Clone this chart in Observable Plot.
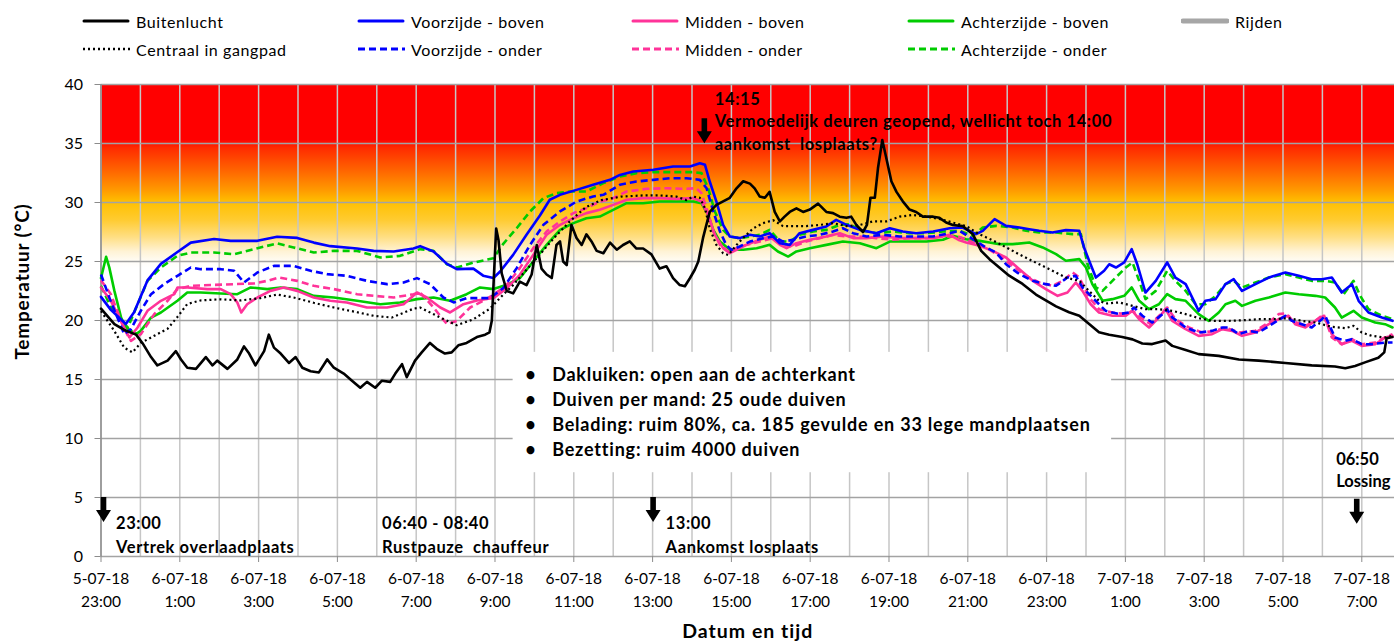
<!DOCTYPE html>
<html>
<head>
<meta charset="utf-8">
<script src="https://cdn.jsdelivr.net/npm/d3@7"></script>
<script src="https://cdn.jsdelivr.net/npm/@observablehq/plot@0.6"></script>
<style>
  body { margin: 0; background: #fff; font-family: Lato, "Open Sans", sans-serif; }
  #wrap { position: relative; width: 1394px; height: 643px; overflow: hidden; }
  #chart { position: absolute; left: 0; top: 0; }
  #legend { position: absolute; left: 0; top: 0; width: 1394px; height: 70px; }
  .li { position: absolute; display: flex; align-items: center; font-size: 16px; letter-spacing: 0.6px; color: #000; white-space: nowrap; height: 20px; }
  .li svg { margin-right: 6px; }
</style>
</head>
<body>
<div id="wrap"><div id="chart"></div><div id="legend"></div></div>
<script>
// ---------------- DATA ----------------
// time = hours after the start time (5-07-18 23:00)
const startTime = "2018-07-05T23:00:00Z";
const endHours = 32.83;
const yTicks = [0, 5, 10, 15, 20, 25, 30, 35, 40];
const xTickHours = [0, 2, 4, 6, 8, 10, 12, 14, 16, 18, 20, 22, 24, 26, 28, 30, 32];
const gridHours = [0,1,2,3,4,5,6,7,8,9,10,11,12,13,14,15,16,17,18,19,20,21,22,23,24,25,26,27,28,29,30,31,32];

const buitenlucht = [[0,21.0],[0.34,19.7],[0.59,19.2],[0.89,18.8],[1.05,18.1],[1.27,16.9],[1.43,16.2],[1.69,16.6],[1.9,17.4],[2.03,16.7],[2.19,16.0],[2.41,15.9],[2.66,16.9],[2.83,16.2],[2.95,16.6],[3.21,15.9],[3.46,16.7],[3.63,17.8],[3.76,17.2],[3.92,16.2],[4.14,17.4],[4.26,18.8],[4.39,17.7],[4.56,17.2],[4.77,16.4],[4.94,16.9],[5.11,16.0],[5.32,15.7],[5.53,15.6],[5.74,16.7],[5.91,16.0],[6.16,15.5],[6.37,14.9],[6.58,14.3],[6.75,14.8],[6.96,14.3],[7.13,14.9],[7.34,14.8],[7.47,15.5],[7.64,16.3],[7.76,15.2],[7.97,16.6],[8.14,17.3],[8.35,18.1],[8.52,17.6],[8.73,17.2],[8.9,17.3],[9.07,17.9],[9.28,18.1],[9.54,18.6],[9.75,18.8],[9.86,19.0],[9.92,20.0],[9.97,23.6],[10.03,27.8],[10.09,26.8],[10.17,24.0],[10.3,22.5],[10.46,22.3],[10.63,23.3],[10.8,23.0],[10.93,23.9],[11.06,26.4],[11.18,24.4],[11.31,23.9],[11.44,23.6],[11.56,26.4],[11.65,26.7],[11.73,25.0],[11.82,24.7],[11.94,28.1],[12.07,27.0],[12.2,26.4],[12.32,27.3],[12.45,26.7],[12.58,25.9],[12.75,25.7],[12.92,26.6],[13.09,26.0],[13.25,26.4],[13.42,26.7],[13.59,26.1],[13.76,26.1],[13.97,25.6],[14.18,24.4],[14.35,24.6],[14.52,23.6],[14.69,23.0],[14.82,22.9],[14.95,23.6],[15.07,24.3],[15.16,25.0],[15.28,27.0],[15.45,29.2],[15.62,29.8],[15.79,30.1],[15.96,30.4],[16.13,31.2],[16.3,31.8],[16.47,31.6],[16.59,31.2],[16.72,30.5],[16.85,30.4],[16.97,30.9],[17.1,29.2],[17.23,28.4],[17.35,28.8],[17.48,29.2],[17.65,29.5],[17.82,29.2],[17.99,29.4],[18.2,29.9],[18.41,29.2],[18.58,29.1],[18.75,28.8],[18.92,28.7],[19.04,28.8],[19.17,28.1],[19.34,27.5],[19.44,28.1],[19.53,30.4],[19.64,30.4],[19.72,32.9],[19.83,35.3],[19.93,33.8],[20.06,31.8],[20.19,30.9],[20.35,30.1],[20.52,29.4],[20.69,29.2],[20.86,28.8],[21.12,28.8],[21.28,28.7],[21.45,28.3],[21.62,28.1],[21.87,28.0],[22.13,27.3],[22.34,25.9],[22.55,25.2],[22.8,24.5],[23.05,23.8],[23.39,23.1],[23.73,22.2],[23.98,21.7],[24.24,21.2],[24.57,20.7],[24.83,20.4],[25.08,19.7],[25.33,19.0],[25.59,18.8],[25.92,18.6],[26.18,18.4],[26.43,18.05],[26.68,18.0],[27.02,18.3],[27.19,17.85],[27.53,17.5],[27.86,17.15],[28.37,17.0],[28.88,16.7],[29.38,16.6],[30.06,16.4],[30.73,16.2],[31.32,16.1],[31.58,15.95],[31.83,16.15],[32.08,16.45],[32.42,16.85],[32.57,17.3],[32.63,18.5],[32.78,18.6]];

const centraalGangpad = [[0,20.8],[0.34,19.1],[0.59,17.7],[0.8,17.3],[1.01,18.1],[1.35,18.7],[1.69,19.3],[1.94,20.3],[2.19,21.4],[2.53,21.7],[3.04,21.8],[3.54,21.7],[4.05,21.9],[4.47,22.2],[4.89,21.95],[5.4,21.5],[5.91,21.1],[6.5,20.7],[6.92,20.4],[7.38,20.25],[7.93,21.0],[8.1,21.1],[8.61,20.25],[9.03,19.6],[9.45,20.1],[9.87,21.0],[10.21,22.2],[10.46,23.0],[10.8,24.3],[11.14,25.6],[11.5,27.0],[11.9,28.4],[12.3,29.6],[12.7,30.2],[13.2,30.5],[13.76,30.6],[14.18,30.6],[14.61,30.5],[14.86,30.2],[15.03,30.5],[15.2,30.4],[15.33,29.5],[15.45,27.8],[15.62,26.4],[15.79,25.7],[15.92,25.55],[16.13,26.4],[16.3,27.0],[16.55,27.8],[16.8,28.25],[17.06,28.5],[17.31,28.0],[17.57,28.0],[17.9,28.0],[18.24,28.1],[18.58,28.25],[18.92,28.0],[19.26,28.1],[19.6,28.4],[19.93,28.4],[20.27,28.8],[20.61,28.95],[20.95,28.8],[21.28,28.6],[21.62,28.3],[21.96,28.0],[22.3,27.3],[22.63,26.8],[22.97,26.2],[23.31,25.6],[23.73,24.9],[24.07,24.35],[24.49,23.64],[24.83,23.36],[25.08,22.5],[25.33,21.67],[25.5,21.44],[25.84,21.53],[26.18,21.24],[26.51,20.96],[26.85,20.96],[27.19,20.82],[27.53,20.54],[27.86,20.2],[28.2,19.97],[28.62,19.97],[29.05,20.03],[29.38,20.11],[29.8,20.11],[30.14,20.2],[30.48,19.97],[30.82,19.83],[31.24,19.46],[31.58,19.35],[31.79,19.55],[32.0,18.98],[32.25,18.7],[32.59,18.56],[32.78,18.7]];

const voorzijdeBoven = [[0,22.0],[0.25,20.9],[0.63,19.7],[0.84,20.7],[1.18,23.4],[1.52,24.8],[1.94,25.8],[2.28,26.6],[2.87,26.9],[3.29,26.75],[3.97,26.75],[4.47,27.1],[4.98,27.0],[5.4,26.6],[5.82,26.3],[6.5,26.1],[6.92,25.9],[7.43,25.85],[7.93,26.1],[8.1,26.3],[8.44,25.85],[8.78,24.8],[9.03,24.35],[9.45,24.4],[9.7,23.8],[9.96,23.6],[10.13,24.15],[10.46,25.56],[10.8,27.26],[11.14,28.9],[11.39,30.23],[11.65,30.65],[12.07,31.07],[12.49,31.5],[12.92,31.92],[13.17,32.34],[13.51,32.63],[14.02,32.77],[14.52,33.05],[14.95,33.05],[15.2,33.33],[15.33,33.19],[15.45,31.78],[15.62,30.08],[15.79,28.1],[15.96,27.12],[16.21,26.98],[16.47,27.26],[16.72,27.12],[16.97,27.4],[17.23,26.55],[17.48,26.41],[17.73,27.4],[18.07,27.68],[18.41,27.97],[18.66,28.53],[18.92,28.11],[19.26,27.68],[19.68,27.4],[20.02,27.82],[20.35,27.54],[20.69,27.4],[21.12,27.54],[21.54,27.82],[21.87,27.88],[22.21,27.32],[22.38,27.6],[22.68,28.59],[22.97,28.02],[23.31,27.88],[23.56,27.74],[23.81,27.6],[24.15,27.46],[24.49,27.66],[24.83,27.6],[24.95,26.19],[25.08,25.06],[25.25,23.64],[25.46,24.21],[25.59,24.77],[25.76,24.49],[25.97,24.92],[26.16,26.05],[26.3,24.77],[26.51,22.37],[26.77,23.36],[27.06,24.92],[27.27,23.64],[27.53,23.08],[27.86,20.82],[28.03,21.67],[28.29,21.81],[28.54,23.08],[28.75,23.5],[28.96,22.51],[29.3,23.08],[29.64,23.64],[30.06,24.07],[30.4,23.79],[30.73,23.5],[30.99,23.5],[31.24,23.64],[31.49,22.37],[31.75,23.08],[31.92,21.67],[32.17,20.68],[32.51,20.25],[32.78,19.97]];

const voorzijdeOnder = [[0,23.9],[0.25,21.6],[0.59,18.84],[0.76,19.27],[1.01,20.82],[1.27,22.23],[1.6,23.08],[1.94,23.79],[2.28,24.49],[2.53,24.35],[3.04,24.35],[3.38,24.21],[3.63,23.22],[3.97,24.07],[4.39,24.63],[4.89,24.63],[5.32,24.21],[5.74,23.93],[6.24,23.79],[6.75,23.36],[7.26,23.08],[7.68,23.22],[8.02,23.59],[8.35,23.08],[8.69,21.95],[8.95,21.53],[9.28,21.9],[9.87,21.9],[10.21,22.74],[10.55,24.44],[10.89,26.41],[11.23,28.11],[11.65,29.24],[12.07,30.08],[12.49,30.51],[12.75,30.65],[13.17,31.5],[13.59,31.78],[14.02,31.92],[14.44,32.06],[14.86,32.06],[15.2,31.92],[15.37,31.21],[15.54,29.24],[15.71,27.54],[15.87,26.41],[16.0,25.99],[16.21,26.27],[16.47,26.69],[16.8,26.98],[17.06,27.12],[17.31,26.69],[17.57,26.84],[17.9,27.12],[18.24,27.26],[18.58,27.54],[18.83,27.82],[19.09,27.4],[19.43,27.12],[19.85,27.26],[20.27,27.12],[20.69,27.12],[21.12,27.12],[21.54,27.4],[21.79,27.6],[22.13,26.9],[22.46,26.19],[22.72,25.76],[22.97,24.77],[23.31,23.93],[23.65,23.36],[23.98,23.08],[24.24,22.94],[24.53,23.64],[24.74,23.79],[24.91,22.8],[25.16,21.95],[25.5,20.82],[25.84,20.54],[26.09,20.68],[26.22,21.1],[26.43,20.4],[26.68,19.83],[26.94,20.54],[27.06,20.96],[27.19,20.25],[27.53,19.41],[27.86,18.98],[28.2,19.12],[28.46,19.41],[28.62,19.41],[28.88,18.84],[29.13,19.12],[29.38,18.98],[29.72,19.69],[30.06,20.4],[30.23,19.97],[30.48,19.69],[30.73,19.41],[30.99,20.11],[31.07,20.4],[31.32,18.56],[31.58,18.28],[31.75,18.42],[32.0,17.99],[32.25,17.99],[32.59,18.13],[32.78,18.13]];

const middenBoven = [[0,22.8],[0.25,21.67],[0.59,19.41],[0.72,18.56],[0.93,19.41],[1.18,20.82],[1.52,21.67],[1.86,22.23],[1.94,22.8],[2.19,22.8],[2.7,22.66],[3.04,22.66],[3.29,22.23],[3.46,21.53],[3.56,20.68],[3.71,21.38],[3.97,21.95],[4.3,22.51],[4.64,22.8],[4.98,22.51],[5.4,21.95],[5.82,21.67],[6.24,21.53],[6.75,21.1],[7.26,21.1],[7.68,21.38],[8.02,22.37],[8.27,21.95],[8.61,21.1],[8.86,20.68],[9.2,21.38],[9.54,21.7],[9.96,21.9],[10.3,22.74],[10.63,23.87],[10.97,25.56],[11.31,27.26],[11.65,28.11],[11.99,28.67],[12.32,29.1],[12.66,29.38],[13.0,29.8],[13.34,30.23],[13.76,30.37],[14.18,30.37],[14.61,30.31],[15.03,30.37],[15.24,30.08],[15.41,28.95],[15.58,27.26],[15.79,26.13],[15.96,25.71],[16.13,25.99],[16.38,26.41],[16.72,26.84],[16.97,27.12],[17.23,26.41],[17.4,26.13],[17.65,26.55],[17.99,26.84],[18.41,27.12],[18.75,27.4],[19.09,26.98],[19.43,26.98],[19.85,27.12],[20.27,26.98],[20.69,26.98],[21.12,26.98],[21.54,27.26],[21.79,26.8],[21.96,26.61],[22.3,26.33],[22.63,25.9],[22.97,25.34],[23.31,24.35],[23.65,23.36],[23.98,22.66],[24.28,22.09],[24.53,22.37],[24.74,23.22],[24.91,22.51],[25.12,21.38],[25.33,20.68],[25.67,20.4],[26.01,20.4],[26.18,20.82],[26.35,20.11],[26.6,19.41],[26.85,20.25],[27.02,20.96],[27.19,19.97],[27.53,19.27],[27.86,18.7],[28.2,18.84],[28.46,19.27],[28.71,19.12],[28.96,18.7],[29.3,18.98],[29.64,19.69],[29.97,20.25],[30.14,20.4],[30.31,19.69],[30.57,19.41],[30.82,19.97],[31.03,20.4],[31.24,18.84],[31.49,17.99],[31.75,18.28],[32.0,17.85],[32.34,17.99],[32.59,18.56],[32.78,18.7]];

const middenOnder = [[0,23.4],[0.25,22.23],[0.59,19.27],[0.76,18.28],[1.01,18.84],[1.35,20.54],[1.69,21.67],[1.94,22.66],[2.28,22.94],[2.87,23.02],[3.38,23.08],[3.88,23.14],[4.22,23.36],[4.51,23.64],[4.98,23.36],[5.4,22.94],[5.91,22.66],[6.5,22.23],[6.92,22.09],[7.43,21.95],[7.93,22.23],[8.1,22.37],[8.44,21.1],[8.78,19.69],[9.03,19.97],[9.37,21.1],[9.7,21.67],[9.96,22.18],[10.3,23.02],[10.63,24.44],[10.97,26.13],[11.31,27.54],[11.65,28.39],[11.99,29.1],[12.32,29.52],[12.66,30.08],[13.0,30.37],[13.34,30.93],[13.85,31.16],[14.35,31.21],[14.86,31.16],[15.11,31.21],[15.24,30.79],[15.37,29.52],[15.54,27.54],[15.71,26.41],[15.92,25.85],[16.13,26.13],[16.38,26.41],[16.72,26.69],[17.06,26.98],[17.31,26.41],[17.57,26.27],[17.9,26.69],[18.24,26.98],[18.58,27.26],[18.92,27.12],[19.26,27.12],[19.68,26.98],[20.1,26.84],[20.52,26.98],[20.95,26.98],[21.37,27.12],[21.79,27.09],[22.13,26.61],[22.46,26.19],[22.8,25.48],[23.14,24.63],[23.48,23.79],[23.81,23.22],[24.15,22.94],[24.41,23.36],[24.66,24.07],[24.83,23.64],[25.08,21.95],[25.33,20.96],[25.67,20.68],[26.01,20.54],[26.18,20.82],[26.39,20.25],[26.64,19.69],[26.94,20.68],[27.06,21.1],[27.27,20.11],[27.61,19.41],[27.95,18.98],[28.29,19.12],[28.54,19.41],[28.88,18.98],[29.3,19.12],[29.64,19.83],[29.89,20.54],[30.06,20.6],[30.23,19.97],[30.57,19.55],[30.82,19.97],[31.03,20.54],[31.24,18.56],[31.49,17.99],[31.75,18.42],[32.0,17.99],[32.34,18.13],[32.59,18.56],[32.78,18.84]];

const achterzijdeBoven = [[0,23.6],[0.13,25.4],[0.21,24.5],[0.34,22.51],[0.51,20.25],[0.63,19.41],[0.89,18.84],[1.01,19.12],[1.27,20.25],[1.52,20.68],[1.94,21.67],[2.19,22.37],[2.53,22.37],[3.04,22.29],[3.46,22.23],[3.8,22.8],[4.22,22.66],[4.56,22.8],[4.98,22.66],[5.4,22.09],[5.91,21.95],[6.5,21.67],[7.09,21.38],[7.59,21.53],[8.02,21.81],[8.44,21.95],[8.86,21.67],[9.28,22.23],[9.62,22.8],[9.96,22.66],[10.3,23.02],[10.63,23.59],[10.97,25.0],[11.31,26.41],[11.65,27.68],[11.99,28.25],[12.32,28.67],[12.66,28.81],[13.0,29.38],[13.34,29.94],[13.76,29.94],[14.18,30.08],[14.61,30.08],[15.03,30.08],[15.24,29.94],[15.41,28.95],[15.54,27.68],[15.71,26.69],[15.96,25.99],[16.3,25.99],[16.64,26.13],[16.97,26.41],[17.18,25.85],[17.44,25.42],[17.65,25.85],[17.99,26.13],[18.41,26.41],[18.83,26.69],[19.26,26.55],[19.68,26.13],[20.02,26.69],[20.44,26.69],[20.95,26.69],[21.37,26.84],[21.62,27.18],[21.96,26.89],[22.3,26.75],[22.55,26.61],[22.8,26.47],[23.14,26.47],[23.56,26.61],[23.9,26.19],[24.24,25.62],[24.49,25.06],[24.83,25.2],[25.0,24.49],[25.16,23.08],[25.42,21.67],[25.67,21.81],[25.97,22.09],[26.16,22.8],[26.35,21.67],[26.6,20.96],[26.85,21.38],[27.06,22.23],[27.27,21.81],[27.53,21.67],[27.86,20.54],[28.12,19.97],[28.37,20.68],[28.54,21.38],[28.79,21.67],[28.96,21.24],[29.3,21.67],[29.64,21.95],[30.06,22.37],[30.4,22.23],[30.82,22.09],[31.07,21.95],[31.32,21.1],[31.49,20.25],[31.79,20.82],[32.0,20.25],[32.34,19.83],[32.59,19.69],[32.78,19.41]];

const achterzijdeOnder = [[0,22.94],[0.25,21.1],[0.51,19.97],[0.68,19.41],[0.93,21.38],[1.18,23.36],[1.52,24.49],[1.94,25.48],[2.28,25.76],[2.87,25.76],[3.38,25.62],[3.88,26.05],[4.47,26.53],[4.89,26.19],[5.4,25.76],[5.91,25.9],[6.5,25.9],[7.09,25.34],[7.59,25.48],[8.1,26.05],[8.44,25.9],[8.78,24.77],[9.03,24.49],[9.45,24.9],[9.96,25.28],[10.21,26.5],[10.55,27.82],[10.89,29.24],[11.23,30.37],[11.56,30.79],[11.9,30.93],[12.32,30.93],[12.75,31.64],[13.17,32.2],[13.59,32.49],[14.02,32.57],[14.52,32.57],[15.03,32.57],[15.24,32.49],[15.41,31.21],[15.58,29.24],[15.79,27.68],[15.96,27.12],[16.21,26.98],[16.47,27.12],[16.72,27.26],[16.97,27.68],[17.23,26.69],[17.48,26.69],[17.73,27.26],[18.07,27.54],[18.41,27.68],[18.75,28.11],[19.0,28.16],[19.26,27.68],[19.68,27.4],[20.1,27.54],[20.52,27.4],[20.95,27.4],[21.37,27.54],[21.79,27.6],[22.13,27.18],[22.38,27.88],[22.72,28.02],[23.14,27.88],[23.48,27.6],[23.81,27.46],[24.24,27.46],[24.66,27.32],[24.87,27.32],[25.04,24.77],[25.25,22.8],[25.42,22.51],[25.67,23.36],[26.01,24.49],[26.18,24.92],[26.35,23.36],[26.51,21.81],[26.77,22.51],[27.06,24.21],[27.27,23.36],[27.53,22.51],[27.78,21.38],[28.03,21.38],[28.29,22.09],[28.54,23.08],[28.75,23.36],[28.96,22.8],[29.3,23.22],[29.64,23.64],[30.06,23.93],[30.4,23.64],[30.73,23.36],[31.07,23.36],[31.32,23.22],[31.54,22.23],[31.79,23.36],[31.96,22.09],[32.17,20.96],[32.51,20.4],[32.78,20.11]];

const legendRow1 = ["Buitenlucht", "Voorzijde - boven", "Midden - boven", "Achterzijde - boven", "Rijden"];
const legendRow2 = ["Centraal in gangpad", "Voorzijde - onder", "Midden - onder", "Achterzijde - onder"];

const infoLines = [
  "Dakluiken: open aan de achterkant",
  "Duiven per mand: 25 oude duiven",
  "Belading: ruim 80%, ca. 185 gevulde en 33 lege mandplaatsen",
  "Bezetting: ruim 4000 duiven"
];

const eventTimes = ["2018-07-05T23:00:00Z", "2018-07-06T06:40:00Z", "2018-07-06T13:00:00Z", "2018-07-06T14:15:00Z", "2018-07-07T06:50:00Z"];
const eventTexts = [
  "23:00\nVertrek overlaadplaats",
  "06:40 - 08:40\nRustpauze  chauffeur",
  "13:00\nAankomst losplaats",
  "14:15\nVermoedelijk deuren geopend, wellicht toch 14:00\naankomst  losplaats?",
  "06:50\nLossing"
];

const yTitle = "Temperatuur (°C)";
const xTitle = "Datum en tijd";

// ---------------- STYLES / LAYOUT ----------------
const styles = {
  "Buitenlucht":         {data: buitenlucht,      color: "#000000", width: 2.6, dash: null},
  "Voorzijde - boven":   {data: voorzijdeBoven,   color: "#0000ff", width: 2.6, dash: null},
  "Midden - boven":      {data: middenBoven,      color: "#ff3399", width: 2.6, dash: null},
  "Achterzijde - boven": {data: achterzijdeBoven, color: "#00cc00", width: 2.6, dash: null},
  "Rijden":              {data: null,             color: "#a6a6a6", width: 5,   dash: null},
  "Centraal in gangpad": {data: centraalGangpad,  color: "#000000", width: 2.2, dash: "2,3"},
  "Voorzijde - onder":   {data: voorzijdeOnder,   color: "#0000ff", width: 2.6, dash: "7,4"},
  "Midden - onder":      {data: middenOnder,      color: "#ff3399", width: 2.6, dash: "7,4"},
  "Achterzijde - onder": {data: achterzijdeOnder, color: "#00cc00", width: 2.6, dash: "7,4"}
};
const drawOrder = ["Achterzijde - onder","Achterzijde - boven","Midden - onder","Midden - boven","Voorzijde - onder","Voorzijde - boven","Centraal in gangpad","Buitenlucht"];

const t0 = Date.parse(startTime);
const toDate = h => new Date(t0 + h * 3600e3);
const hoursOf = iso => (Date.parse(iso) - t0) / 3600e3;

// heat gradient (temperature -> colour)
const heatBottom = 24.4, heatTop = 40;
const heatStops = [[40,"#ff0000"],[35.3,"#ff0000"],[34.6,"#ff2a00"],[32.5,"#ff6a00"],[31,"#ff9a00"],[30,"#ffc000"],[28.5,"#ffcb30"],[27,"#ffdf85"],[25.8,"#fff3d6"],[24.9,"#fffdf8"],[24.4,"#ffffff"]];

// event layout: arrow top (°C), arrow dx (px), text dx (px), text centre (°C), line height, letter spacing
const eventLayout = [
  {arrow: 5,    adx: 3,  tdx: 15,  ty: 1.95, lh: 1.45, ls: "0.6px"},
  {arrow: null, adx: 0,  tdx: -21, ty: 1.95, lh: 1.45, ls: "0.6px"},
  {arrow: 5,    adx: 1,  tdx: 13,  ty: 1.95, lh: 1.45, ls: "0.6px"},
  {arrow: 37.1, adx: 3,  tdx: 13,  ty: 37.0, lh: 1.37, ls: "0.6px"},
  {arrow: 4.85, adx: 2,  tdx: -19, ty: 7.45, lh: 1.37, ls: "0px"}
];
const events = eventTimes.map((t, i) => ({h: hoursOf(t), text: eventTexts[i], ...eventLayout[i]}));

// info box (white, hides the grid)
const infoBox = {h1: 10.46, h2: 25.65, t1: 7.1, t2: 17.3};
const infoTextH = 11.45, infoBulletH = 10.9, infoFirstT = 15.33, infoStepT = 2.1;

const FONT = "Lato, 'Open Sans', sans-serif";

// ---------------- CHART ----------------
const heatDefs = () => {
  const defs = d3.create("svg:defs");
  const g = defs.append("linearGradient").attr("id", "heat").attr("x1", 0).attr("y1", 0).attr("x2", 0).attr("y2", 1);
  heatStops.forEach(([t, c]) => g.append("stop").attr("offset", (heatTop - t) / (heatTop - heatBottom)).attr("stop-color", c));
  return defs.node();
};

const arrowsMark = (index, scales) => {
  const g = d3.create("svg:g");
  events.filter(e => e.arrow != null).forEach(e => {
    const x = scales.x(toDate(e.h)) + e.adx, y = scales.y(e.arrow);
    g.append("path")
      .attr("d", `M${x-2.8},${y} L${x+2.8},${y} L${x+2.8},${y+13} L${x+7.5},${y+13} L${x},${y+25} L${x-7.5},${y+13} L${x-2.8},${y+13} Z`)
      .attr("fill", "#000");
  });
  return g.node();
};

const lineMarks = drawOrder.map(name => {
  const s = styles[name];
  return Plot.line(s.data, {
    x: d => toDate(d[0]), y: d => d[1],
    stroke: s.color, strokeWidth: s.width, strokeDasharray: s.dash,
    strokeLinejoin: "round", strokeLinecap: s.dash ? "butt" : "round"
  });
});

const tickFmt = d => d3.utcFormat("%-d-%m-%y")(d) + "\n" + d3.utcFormat("%-H:%M")(d);

const chart = Plot.plot({
  width: 1394,
  height: 643,
  marginLeft: 100.5,
  marginRight: 0,
  marginTop: 84,
  marginBottom: 87,
  style: {fontFamily: FONT, background: "transparent", overflow: "visible"},
  x: {type: "utc", domain: [toDate(0), toDate(endHours)], label: null},
  y: {domain: [0, 40], label: null},
  marks: [
    heatDefs,
    Plot.rect([0], {x1: () => toDate(0), x2: () => toDate(endHours), y1: heatBottom, y2: heatTop, fill: "url(#heat)"}),
    Plot.ruleX(gridHours.map(toDate), {y1: 0, y2: 40, stroke: "#c6c6c6", strokeWidth: 1.5}),
    Plot.ruleY(yTicks, {stroke: "#a3a3a3", strokeWidth: 1.5}),
    Plot.rect([infoBox], {x1: d => toDate(d.h1), x2: d => toDate(d.h2), y1: "t1", y2: "t2", fill: "#ffffff"}),
    Plot.ruleX([toDate(0)], {y1: 0, y2: 40, stroke: "#8c8c8c", strokeWidth: 1.5}),
    Plot.axisY({ticks: yTicks, tickSize: 6, tickPadding: 12, stroke: "#8c8c8c", fontSize: 16, fill: "#000", label: null}),
    Plot.axisX({ticks: xTickHours.map(toDate), tickFormat: tickFmt, tickSize: 6, tickPadding: 6, stroke: "#8c8c8c", fontSize: 15.5, fill: "#000", lineHeight: 1.45, label: null}),
    ...lineMarks,
    Plot.text(infoLines, {x: () => toDate(infoBulletH), y: (d, i) => infoFirstT - i * infoStepT, text: () => "•", fontSize: 18, fontWeight: "bold", fill: "#000"}),
    Plot.text(infoLines, {x: () => toDate(infoTextH), y: (d, i) => infoFirstT - i * infoStepT, text: d => d, textAnchor: "start", fontSize: 18, fontWeight: "bold", fill: "#000"}),
    arrowsMark,
    ...events.map(e => Plot.text([e], {x: d => toDate(d.h), y: "ty", text: "text", dx: e.tdx, textAnchor: "start", lineAnchor: "middle", lineHeight: e.lh, fontSize: 16.5, fontWeight: "bold", fill: "#000"})),
    Plot.text([yTitle], {frameAnchor: "left", dx: -78, dy: -39, rotate: -90, textAnchor: "middle", fontSize: 19, fontWeight: "bold", fill: "#000"}),
    Plot.text([xTitle], {frameAnchor: "bottom", dy: 81, fontSize: 19.5, fontWeight: "bold", fill: "#000"})
  ]
});
document.getElementById("chart").append(chart);

// letter spacing to mimic the wider original typeface
const spacing = new Map();
infoLines.forEach(l => spacing.set(l, "0.8px"));
events.forEach(e => spacing.set(e.text.replace(/\n/g, ""), e.ls));
spacing.set(yTitle, "0.8px");
spacing.set(xTitle, "1px");
d3.select(chart).selectAll("text").each(function() {
  const s = spacing.get(this.textContent);
  if (s) this.setAttribute("letter-spacing", s);
});

// ---------------- LEGEND (HTML) ----------------
const legend = d3.select("#legend");
const colX = [82, 357, 631, 907, 1181];
const rowY = [11, 39];
[legendRow1, legendRow2].forEach((row, r) => {
  row.forEach((name, c) => {
    const s = styles[name];
    const item = legend.append("div").attr("class", "li").style("left", colX[c] + "px").style("top", rowY[r] + "px");
    const sv = item.append("svg").attr("width", 48).attr("height", 10);
    sv.append("line").attr("x1", s.dash ? 1 : 2).attr("x2", s.dash ? 48 : 46).attr("y1", 5).attr("y2", 5)
      .attr("stroke", s.color).attr("stroke-width", s.width + (name === "Rijden" ? 0 : 0.4))
      .attr("stroke-dasharray", s.dash).attr("stroke-linecap", s.dash ? "butt" : "round");
    item.append("span").text(name);
  });
});
</script>
</body>
</html>
